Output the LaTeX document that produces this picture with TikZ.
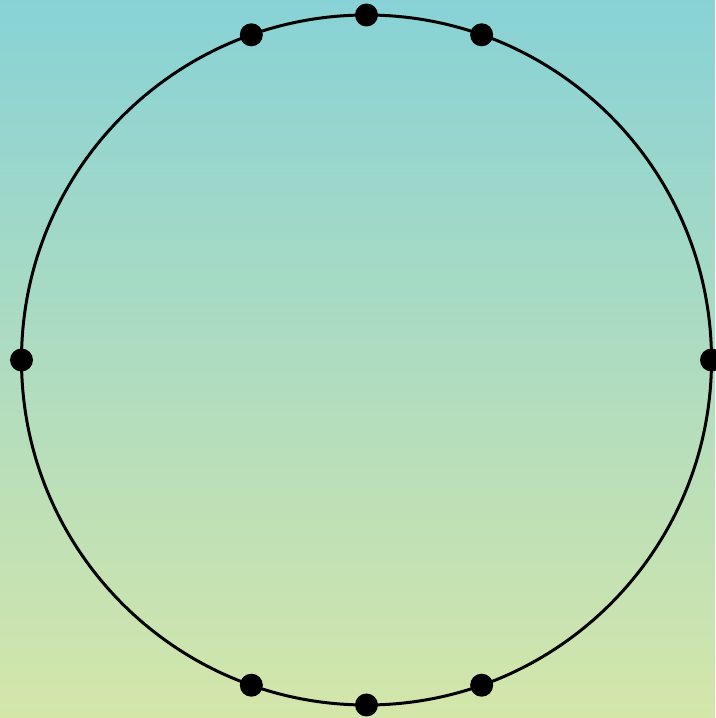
\documentclass[tikz,border=0pt]{standalone}
\usepackage{xcolor}
\definecolor{skyteal}{RGB}{136,210,214}
\definecolor{palelime}{RGB}{212,230,170}
\usetikzlibrary{positioning}
\tikzset{
  ring/.style={draw, circle, line width=0.85pt, minimum size=6.9cm, inner sep=0pt},
  spot/.style={circle, fill=black, minimum size=0.23cm, inner sep=0pt},
}

\begin{document}
\begin{tikzpicture}
  % Background
  \shade[top color=skyteal, bottom color=palelime] (0,0) rectangle (7.15,7.18);
  \useasboundingbox (0,0) rectangle (7.15,7.18);

  % Circle
  \node[ring] (rim) at (3.665,3.58) {};

  % Points on the circle
  \foreach \ang [count=\i] in {0,70.5,90,109.5,180,250.5,270,289.5} {
    \node[spot] (p\i) at ([shift={(\ang:3.45)}]rim.center) {};
  }
\end{tikzpicture}
\end{document}
